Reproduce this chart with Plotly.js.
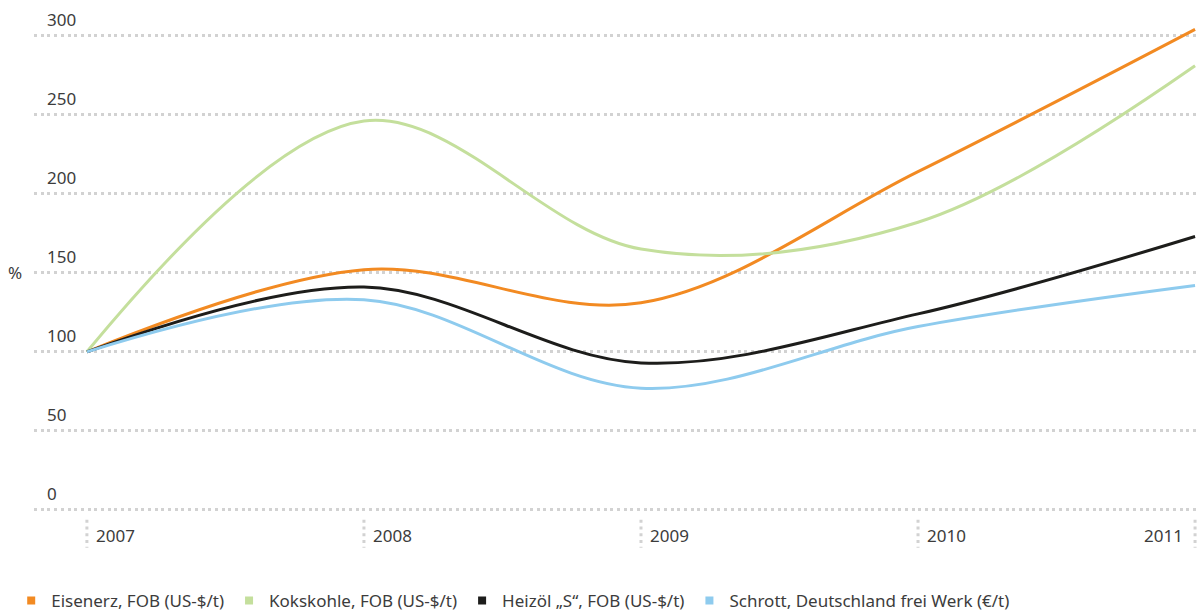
<!DOCTYPE html>
<html>
<head>
<meta charset="utf-8">
<script src="https://cdn.plot.ly/plotly-3.0.1.min.js"></script>
<style>html,body{margin:0;padding:0;background:#fff;}#chart{width:1197px;height:612px;}</style>
</head>
<body>
<div id="chart"></div>
<script>
const years = [2007, 2008, 2009, 2010, 2011];
const yearLabels = ["2007", "2008", "2009", "2010", "2011"];
const eisenerz = [100, 152, 131, 214, 304];
const kokskohle = [100, 246, 165, 182, 281];
const heizoel = [100, 141, 93, 124, 173];
const schrott = [100, 133, 77, 116, 142];
const yTicks = [0, 50, 100, 150, 200, 250, 300];
const seriesNames = ["Eisenerz, FOB (US-$/t)", "Kokskohle, FOB (US-$/t)", "Heizöl „S“, FOB (US-$/t)", "Schrott, Deutschland frei Werk (€/t)"];
const colors = ["#f28a22", "#c4df9c", "#1d1d1b", "#8ecbee"];
const seriesValues = [eisenerz, kokskohle, heizoel, schrott];

const FONT = "Noto Sans, Open Sans, sans-serif";
const TXT = "#3c3c3c";

const traces = [];
seriesValues.forEach((vals, i) => {
  traces.push({
    type: "scatter", mode: "lines", x: years, y: vals,
    line: {color: colors[i], width: 3, shape: "spline", smoothing: 1},
    showlegend: false, hoverinfo: "skip"
  });
});
seriesValues.forEach((vals, i) => {
  traces.push({
    type: "scatter", mode: "markers", x: [null], y: [null], name: seriesNames[i],
    marker: {symbol: "square", size: 8, color: colors[i]},
    showlegend: true
  });
});

// y: 0 -> 510px, 300 -> 36px
const yMin = -2, yMax = 322;
const pxPerUnit = (510 - 36) / 300;
const plotTop = 36 - (yMax - 300) * pxPerUnit;
const plotBottom = 510 - yMin * pxPerUnit;
const plotH = plotBottom - plotTop;
const py = (pix) => (plotBottom - pix) / plotH;

const shapes = years.map(yr => ({
  type: "line", xref: "x", yref: "paper", x0: yr, x1: yr,
  y0: py(520), y1: py(548),
  line: {color: "#d2d2d2", width: 3, dash: "3px,3.7px"}
}));

const annotations = years.map((yr, i) => ({
  xref: "x", yref: "paper", x: yr, y: py(536),
  text: yearLabels[i], showarrow: false,
  xanchor: i === years.length - 1 ? "right" : "left",
  yanchor: "middle",
  xshift: i === years.length - 1 ? -10 : 7,
  font: {family: FONT, size: 17, color: TXT}
}));
annotations.push({
  xref: "paper", yref: "y", x: 0, y: 150, xshift: -19,
  text: "%", showarrow: false, xanchor: "center", yanchor: "middle",
  font: {family: FONT, size: 17, color: TXT}
});

const layout = {
  width: 1197, height: 612,
  margin: {l: 34, r: 0, t: plotTop, b: 612 - plotBottom, autoexpand: false},
  paper_bgcolor: "#fff", plot_bgcolor: "#fff",
  showlegend: true,
  legend: {
    orientation: "h", x: -0.0196, xanchor: "left", y: py(601), yanchor: "middle",
    font: {family: FONT, size: 17, color: TXT}, itemclick: false
  },
  xaxis: {
    range: [2006.809, 2011.007], showgrid: false, zeroline: false,
    showticklabels: false, ticks: "", showline: false, tickvals: years
  },
  yaxis: {
    range: [yMin, yMax], tickvals: yTicks, ticktext: yTicks.map(String),
    showgrid: true, gridcolor: "#d2d2d2", gridwidth: 3, griddash: "3px,3.7px",
    zeroline: false, showline: false, ticks: "",
    ticklabelposition: "inside", ticklabelstandoff: 10, ticklabelshift: -16,
    tickfont: {family: FONT, size: 17, color: TXT}
  },
  shapes: shapes,
  annotations: annotations
};

Plotly.newPlot("chart", traces, layout, {displayModeBar: false, staticPlot: true});
</script>
</body>
</html>
